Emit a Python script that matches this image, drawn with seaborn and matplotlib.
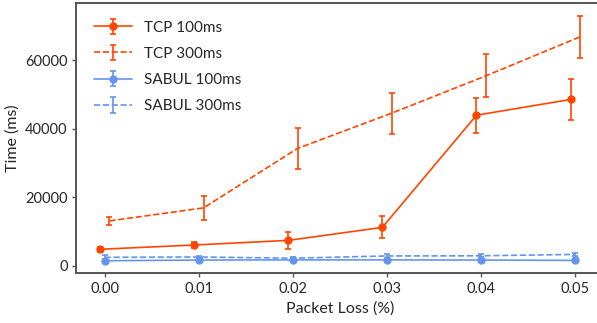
import matplotlib
matplotlib.use("Agg")
import matplotlib.pyplot as plt
import seaborn as sns
import numpy as np

packet_loss = [0.00, 0.01, 0.02, 0.03, 0.04, 0.05]

tcp100_mean = [4800, 6050, 7400, 11200, 44000, 48600]
tcp100_err = [700, 1000, 2400, 3200, 5100, 6000]

tcp300_mean = [13100, 16900, 34300, 44600, 55500, 66900]
tcp300_err = [1200, 3500, 6100, 6000, 6300, 6100]

sabul100_mean = [1450, 1650, 1700, 1700, 1650, 1550]
sabul100_err = [500, 300, 250, 300, 250, 200]

sabul300_mean = [2450, 2550, 2200, 2850, 2900, 3300]
sabul300_err = [700, 400, 400, 500, 500, 400]

labels = ["TCP 100ms", "TCP 300ms", "SABUL 100ms", "SABUL 300ms"]
x_shift = [-0.0005, 0.0005, 0.0, 0.0]

sns.set_theme(style="ticks")
plt.rcParams["font.family"] = ["Lato", "DejaVu Sans"]

fig = plt.figure(figsize=(5.97, 3.23), dpi=100)
ax = fig.add_axes([76 / 597, 49.7 / 323, 528 / 597, 270.3 / 323])

orange = "#FF4500"
blue = "#6495ED"
series = [
    (tcp100_mean, tcp100_err, orange, "-", "o"),
    (tcp300_mean, tcp300_err, orange, "--", None),
    (sabul100_mean, sabul100_err, blue, "-", "o"),
    (sabul300_mean, sabul300_err, blue, "--", None),
]
for (m, e, c, ls, mk), lab, dx in zip(series, labels, x_shift):
    xs = np.array(packet_loss) + dx
    ax.errorbar(xs, m, yerr=e, color=c, linestyle=ls, marker=mk, markersize=5,
                linewidth=1.2, elinewidth=1.2, capsize=2.5, capthick=1.2, label=lab)

ax.set_xlim(-0.00305, 0.05305)
ax.set_ylim(-2220, 76800)
ax.set_xticks(packet_loss)
ax.set_xticklabels([f"{v:.2f}" for v in packet_loss])
ax.set_yticks([0, 20000, 40000, 60000])
ax.set_xlabel("Packet Loss (%)", fontsize=11.5, labelpad=4)
ax.set_ylabel("Time (ms)", fontsize=11.5)
ax.tick_params(labelsize=10.5, length=3, width=1, color="#555555", pad=3)
for s in ax.spines.values():
    s.set_color("#555555")
    s.set_linewidth(1.4)

ax.legend(loc="upper left", frameon=False, fontsize=11, handlelength=2.5,
          borderaxespad=0.75, labelspacing=0.8, handletextpad=0.8)

fig.savefig("out.png", dpi=100)
